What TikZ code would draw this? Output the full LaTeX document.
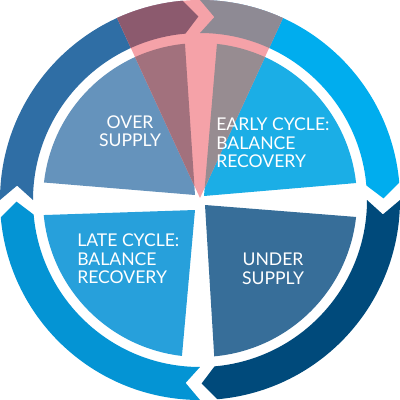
\documentclass[tikz,border=0pt]{standalone}
\usepackage{fontspec}
\setmainfont{Lato}
\usepackage{tikz}

\definecolor{ringdark}{HTML}{2F6EA5}
\definecolor{ringlight}{HTML}{00ADEE}
\definecolor{ringnavy}{HTML}{004A7B}
\definecolor{ringmid}{HTML}{0494D4}
\definecolor{overfill}{HTML}{6593BC}
\definecolor{earlyfill}{HTML}{1BAEE6}
\definecolor{underfill}{HTML}{376E99}
\definecolor{latefill}{HTML}{27A0DB}
\definecolor{pinkfill}{HTML}{F5A2A8}
\definecolor{overpink}{HTML}{A2717D}
\definecolor{earlypink}{HTML}{978C91}
\definecolor{ringdarkpink}{HTML}{8C5A6E}
\definecolor{ringlightpink}{HTML}{8E8A94}

\begin{document}
\begin{tikzpicture}[x=0.25mm,y=0.25mm,
	phase/.style={text=white,inner sep=0pt,font=\fontsize{12.5}{13.2}\selectfont}]
	\useasboundingbox (-200,-200) rectangle (200,200);
	% ring of arrows, clockwise
	\foreach \s/\col in {180/ringdark,90/ringlight,0/ringnavy,-90/ringmid}
		\fill[\col] (\s:200) arc[start angle=\s,end angle=\s-85,radius=200] -- (\s-89.5:183.5)
			-- (\s-85:167) arc[start angle=\s-85,end angle=\s,radius=167] -- (\s-4.5:183.5) -- cycle;
	% the four phases
	\fill[overfill] (-5,5) -- (95.5:157) arc[start angle=95.5,end angle=173.6,radius=157] -- cycle;
	\fill[earlyfill] (4,4) -- (6.2:157) arc[start angle=6.2,end angle=83.8,radius=157] -- cycle;
	\fill[underfill] (5,-5) -- (-84.8:157) arc[start angle=-84.8,end angle=-6.2,radius=157] -- cycle;
	\fill[latefill] (-5,-10) -- (185.5:157) arc[start angle=185.5,end angle=263.4,radius=157] -- cycle;
	% pink wedge over the top
	\begin{scope}
		\clip (0,2) -- (65.5:200) arc[start angle=65.5,end angle=114.5,radius=200] -- cycle;
		\fill[pinkfill] (0,0) circle[radius=200];
		\foreach \s/\col in {180/ringdarkpink,90/ringlightpink}
			\fill[\col] (\s:200) arc[start angle=\s,end angle=\s-85,radius=200] -- (\s-89.5:183.5)
				-- (\s-85:167) arc[start angle=\s-85,end angle=\s,radius=167] -- (\s-4.5:183.5) -- cycle;
		\fill[overpink] (-5,5) -- (95.5:157) arc[start angle=95.5,end angle=173.6,radius=157] -- cycle;
		\fill[earlypink] (4,4) -- (6.2:157) arc[start angle=6.2,end angle=83.8,radius=157] -- cycle;
	\end{scope}
	\node[phase,align=center] (over) at (-70,69) {OVER\\SUPPLY};
	\node[phase,align=left,anchor=west] (early) at (16,57) {EARLY CYCLE:\\BALANCE\\RECOVERY};
	\node[phase,align=center] (under) at (73,-69) {UNDER\\SUPPLY};
	\node[phase,align=left,anchor=west] (late) at (-123,-59) {LATE CYCLE:\\BALANCE\\RECOVERY};
\end{tikzpicture}
\end{document}
